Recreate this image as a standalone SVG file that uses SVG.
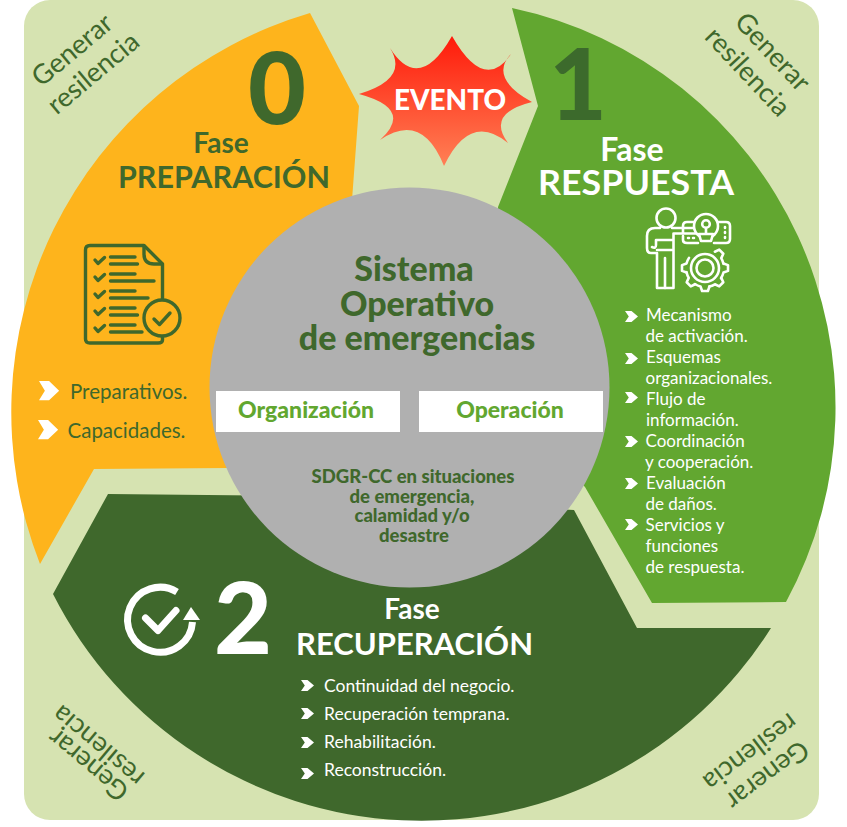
<svg xmlns="http://www.w3.org/2000/svg" width="847" height="827" viewBox="0 0 847 827">
<style>
text{font-family:Lato,"Open Sans",sans-serif}
.d{fill:#3f682c}.w{fill:#fff}.g{fill:#62a730}
.c{text-anchor:middle}
.b{font-weight:700}.k{font-weight:900}
.res{font-size:27px;fill:#3f682c;text-anchor:middle}
.rl{font-size:17px;fill:#fff}
.bl{font-size:17.5px;fill:#fff}
.ll{font-size:20.5px;fill:#3f682c}
.dig{font-size:100px;font-weight:900;text-anchor:middle}
.st{fill:none;stroke:#fff;stroke-width:2.6;stroke-linecap:round;stroke-linejoin:round}
.sd{fill:none;stroke:#3f682c;stroke-width:3.4;stroke-linecap:round;stroke-linejoin:round}
</style>
<defs>
<linearGradient id="burst" x1="0" y1="0" x2="0" y2="1"><stop offset="0" stop-color="#ff1a0a"/><stop offset="1" stop-color="#ff8055"/></linearGradient>
<path id="chev" fill="#fff" d="M0,0H6.5L13,5.5L6.5,11H0L3.8,5.5Z"/>
<path id="tooth" d="M-4.5,-18.5L-2.9,-23L2.9,-23L4.5,-18.5A19 19 0 0 1 10.1,-16"/>
</defs>
<rect id="background" x="24" y="0" width="795" height="820" rx="26" fill="#d6e3b1"/>

<g id="fase0">
<path fill="#feb41c" d="M310,13L359,106L352,200L240,300L228,468L94,469L40,564A416 416 0 0 1 310,13Z"/>
<text class="dig d" x="277" y="124">0</text>
<text class="c b d" x="221" y="153" font-size="28">Fase</text>
<text class="c b d" x="224" y="188" font-size="29.5" textLength="212" lengthAdjust="spacingAndGlyphs">PREPARACIÓN</text>
<g class="sd" id="icono-lista">
<path d="M90,245.5H144L162.5,264V340Q162.5,343 158,343H90Q85.500,343 85.500,339V250Q85.500,245.500 90,245.500Z"/>
<path d="M144,246V254Q144,264 154,264H162"/>
<path d="M110.500,257H135M110.500,264H137.500M110.500,274H135M110.500,281H154M110.500,291H135M110.500,298H148M110.500,308H135M110.500,315H137.500M110.500,325H135M110.500,332H142"/>
<path d="M95,260L98,263.500L104.500,257.500M95,277L98,280.500L104.500,274.500M95,294L98,297.500L104.500,291.500M95,311L98,314.500L104.500,308.500M95,328L98,331.500L104.500,325.500"/>
<circle cx="162" cy="318" r="18" fill="#feb41c"/>
<path d="M154,319L159.500,324.500L170,313"/>
</g>
<use href="#chev" transform="translate(39,381) scale(1.55,1.75)"/>
<use href="#chev" transform="translate(38,420) scale(1.55,1.75)"/>
<text class="ll" x="70" y="399">Preparativos.</text>
<text class="ll" x="67.500" y="438">Capacidades.</text>
</g>

<g id="fase1">
<path fill="#62a730" d="M512,8L538,106L498,207L500,400L585,487L652,603L786,602A408 408 0 0 0 512,8Z"/>
<text class="dig" x="578" y="120" fill="#3c6a2c">1</text>
<text class="c b w" x="632" y="161" font-size="32">Fase</text>
<text class="c b w" x="636" y="195" font-size="35" textLength="196" lengthAdjust="spacingAndGlyphs">RESPUESTA</text>
<g id="icono-persona" class="st">
<circle cx="666" cy="218" r="9.500"/>
<path d="M672,228H698V233.500H673.500V288H657V253H651Q647,253 647,248V236Q647,228 655,228H660"/>
<path d="M656,240H672.500M656,240V245Q656,249 652,247M665,258V288M657,250H672"/>
<path d="M683,233V226Q683,222 687,222H694M718,222H726Q730,222 730,226V239Q730,243 726,243H714M683,236V240Q683,243 687,243H698"/>
<circle cx="706" cy="226" r="12" fill="#62a730"/>
<circle cx="706" cy="224" r="3.800"/>
<path d="M706,228V234M699,234H713L711,241H701Z" fill="#62a730"/>
<path d="M688,238H689M693,238H694M725,227V228M725,232V233M725,237V238"/>
<circle cx="705" cy="268" r="14"/>
<circle cx="705" cy="268" r="8.500"/>
<g transform="translate(705,268)">
<use href="#tooth" transform="rotate(45)"/><use href="#tooth" transform="rotate(90)"/><use href="#tooth" transform="rotate(135)"/><use href="#tooth" transform="rotate(180)"/><use href="#tooth" transform="rotate(225)"/><use href="#tooth" transform="rotate(270)"/>
</g>
</g>
<use href="#chev" transform="translate(625,311)"/>
<use href="#chev" transform="translate(625,353)"/>
<use href="#chev" transform="translate(625,392)"/>
<use href="#chev" transform="translate(625,436)"/>
<use href="#chev" transform="translate(625,478)"/>
<use href="#chev" transform="translate(625,519)"/>
<text class="rl" x="646" y="321">Mecanismo</text>
<text class="rl" x="645.500" y="342">de activación.</text>
<text class="rl" x="646" y="363">Esquemas</text>
<text class="rl" x="645.500" y="384">organizacionales.</text>
<text class="rl" x="646" y="405">Flujo de</text>
<text class="rl" x="646" y="426">información.</text>
<text class="rl" x="645.500" y="447">Coordinación</text>
<text class="rl" x="645" y="468">y cooperación.</text>
<text class="rl" x="646" y="489">Evaluación</text>
<text class="rl" x="645.500" y="510">de daños.</text>
<text class="rl" x="645.500" y="531">Servicios y</text>
<text class="rl" x="645.500" y="552">funciones</text>
<text class="rl" x="645.500" y="573">de respuesta.</text>
</g>

<g id="fase2">
<path fill="#3f682c" d="M53,594L108,494L300,496L574,510L637,628H771A413 413 0 0 1 53,594Z"/>
<g id="icono-ciclo">
<path d="M177,592A32.500 32.500 0 1 0 192.500,622" fill="none" stroke="#fff" stroke-width="7"/>
<path d="M191,607L200,620H183Z" fill="#fff"/>
<path d="M145.500,618L158,630.500L176,610.500" fill="none" stroke="#fff" stroke-width="7" stroke-linecap="round" stroke-linejoin="round"/>
</g>
<text class="dig w" x="243" y="654">2</text>
<text class="c b w" x="412" y="619" font-size="28">Fase</text>
<text class="c b w" x="414.500" y="655" font-size="31" textLength="237" lengthAdjust="spacingAndGlyphs">RECUPERACIÓN</text>
<use href="#chev" transform="translate(301,680)"/>
<use href="#chev" transform="translate(301,708)"/>
<use href="#chev" transform="translate(301,737)"/>
<use href="#chev" transform="translate(301,768)"/>
<text class="bl" x="324" y="692">Continuidad del negocio.</text>
<text class="bl" x="324" y="720">Recuperación temprana.</text>
<text class="bl" x="324" y="748">Rehabilitación.</text>
<text class="bl" x="324" y="776">Reconstrucción.</text>
</g>

<g id="evento">
<path fill="url(#burst)" d="M452,36Q484.500,93 511,54Q488.500,78 532,102Q486,113.500 508,143Q470,111.500 444,166Q422,111 380,140Q414.500,109 359,94Q409.500,79 390,48Q419,94 452,36Z"/>
<text class="c k w" x="450" y="110" font-size="28" textLength="112" lengthAdjust="spacingAndGlyphs">EVENTO</text>
</g>

<g id="sistema">
<circle cx="409.500" cy="387.500" r="200" fill="#b0b0b0"/>
<text class="c k d" x="414" y="281" font-size="34">Sistema</text>
<text class="c k d" x="417" y="316" font-size="34">Operativo</text>
<text class="c k d" x="417" y="350" font-size="34">de emergencias</text>
<g id="organizacion">
<rect x="216" y="391" width="184" height="41" fill="#fff"/>
<text class="c k g" x="306" y="418" font-size="23">Organización</text>
</g>
<g id="operacion">
<rect x="419" y="391" width="184" height="41" fill="#fff"/>
<text class="c k g" x="510" y="418" font-size="23">Operación</text>
</g>
<text class="c k d" x="413" y="483" font-size="18.500">SDGR-CC en situaciones</text>
<text class="c k d" x="412" y="503" font-size="18.500">de emergencia,</text>
<text class="c k d" x="412" y="522" font-size="18.500">calamidad y/o</text>
<text class="c k d" x="414" y="542" font-size="18.500">desastre</text>
</g>

<g id="generar-resiliencia">
<text class="res" transform="translate(78,57) rotate(-40)">Generar</text>
<text class="res" transform="translate(99,80) rotate(-40)">resilencia</text>
<text class="res" transform="translate(766,58) rotate(47)">Generar</text>
<text class="res" transform="translate(741,78) rotate(47)">resilencia</text>
<text class="res" transform="translate(94,758) rotate(220)">Generar</text>
<text class="res" transform="translate(104,739) rotate(220)">resilencia</text>
<text class="res" transform="translate(762,768) rotate(143)">Generar</text>
<text class="res" transform="translate(745,745) rotate(143)">resilencia</text>
</g>
</svg>
